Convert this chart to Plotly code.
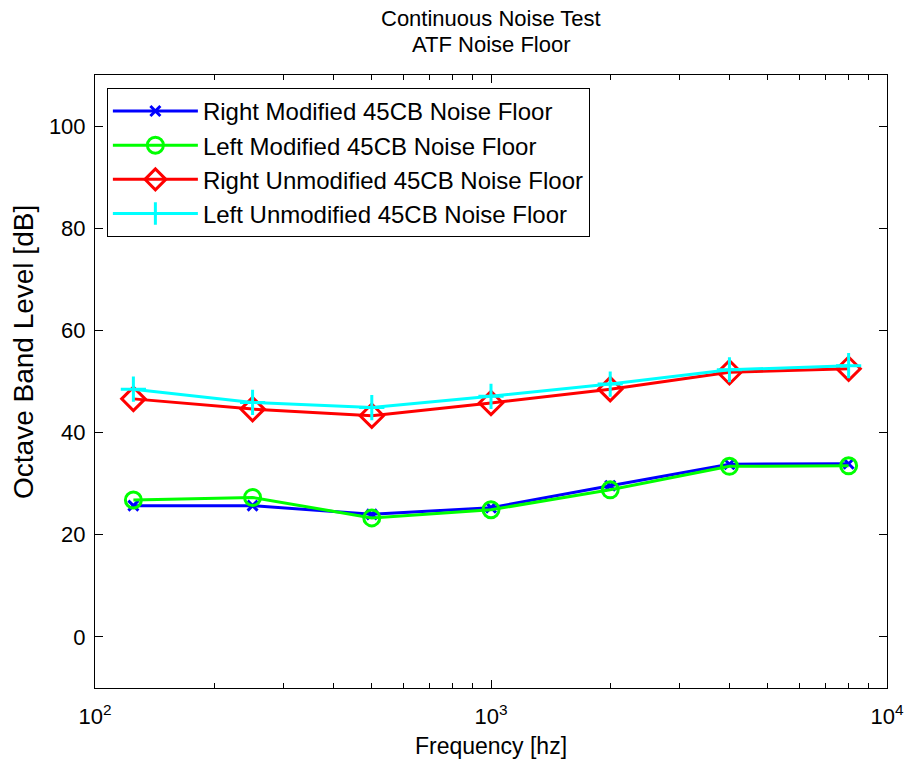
import plotly.graph_objects as go

freq = [125, 250, 500, 1000, 2000, 4000, 8000]
right_mod = [25.7, 25.7, 24.0, 25.3, 29.6, 33.8, 33.9]
left_mod = [26.8, 27.3, 23.3, 24.9, 28.8, 33.4, 33.5]
right_unmod = [46.6, 44.6, 43.3, 45.8, 48.5, 51.8, 52.5]
left_unmod = [48.5, 45.9, 44.9, 47.1, 49.5, 52.3, 53.1]

names = ["Right Modified 45CB Noise Floor", "Left Modified 45CB Noise Floor",
         "Right Unmodified 45CB Noise Floor", "Left Unmodified 45CB Noise Floor"]
series = [right_mod, left_mod, right_unmod, left_unmod]
colors = ["#0000FF", "#00FF00", "#FF0000", "#00FFFF"]
symbols = ["x-thin-open", "circle-open", "diamond-open", "cross-thin-open"]
sizes = [10, 16, 18, 18]

xtick_vals = [100, 1000, 10000]
xtick_text = ["10<sup>2</sup>", "10<sup>3</sup>", "10<sup>4</sup>"]
minor_vals = [200, 300, 400, 500, 600, 700, 800, 900,
              2000, 3000, 4000, 5000, 6000, 7000, 8000, 9000]
ytick_vals = [0, 20, 40, 60, 80, 100]
title_lines = ["Continuous Noise Test", "ATF Noise Floor"]
x_title = "Frequency [hz]"
y_title = "Octave Band Level [dB]"

fig = go.Figure()
for n, s, c, sym, sz in zip(names, series, colors, symbols, sizes):
    fig.add_trace(go.Scatter(
        x=freq, y=s, name=n, mode="lines+markers",
        line=dict(color=c, width=3),
        marker=dict(symbol=sym, size=sz, color=c, line=dict(color=c, width=3)),
    ))

font = "Liberation Sans, Arial, sans-serif"
plot_left, plot_right = 95, 887
plot_top, plot_bot = 75, 688
ph = plot_bot - plot_top
pw = plot_right - plot_left
for line, py in zip(title_lines, [19, 44]):
    fig.add_annotation(
        text=line, xref="paper", yref="paper", x=0.5,
        y=(plot_bot - py) / ph,
        xanchor="center", yanchor="middle", showarrow=False,
        font=dict(size=22, family=font, color="black"),
    )
# y-axis title (MATLAB places it slightly above the axis centre)
fig.add_annotation(
    text=y_title, xref="paper", yref="paper",
    x=(23 - plot_left) / pw, y=(plot_bot - 352) / ph,
    xanchor="center", yanchor="middle", textangle=-90, showarrow=False,
    font=dict(size=28, family=font, color="black"),
)

fig.update_layout(
    width=909, height=763,
    margin=dict(l=plot_left, r=909 - plot_right, t=plot_top, b=763 - plot_bot,
                autoexpand=False),
    paper_bgcolor="white", plot_bgcolor="white",
    font=dict(family=font, size=22, color="black"),
    showlegend=True,
    legend=dict(x=0.015, y=0.979, xanchor="left", yanchor="top",
                bordercolor="black", borderwidth=1, bgcolor="white",
                font=dict(size=24), itemwidth=85, tracegroupgap=0),
)
fig.update_xaxes(
    type="log", range=[2, 4], automargin=False,
    tickmode="array", tickvals=xtick_vals, ticktext=xtick_text,
    ticks="inside", ticklen=8, tickcolor="black", ticklabelstandoff=9,
    minor=dict(tickmode="array", tickvals=minor_vals, ticks="inside",
               ticklen=5, tickcolor="black", showgrid=False),
    showline=True, linecolor="black", linewidth=1, mirror="allticks",
    showgrid=False, zeroline=False,
    title=dict(text=x_title, standoff=9, font=dict(size=23)),
)
fig.update_yaxes(
    range=[-10, 110], automargin=False,
    tickmode="array", tickvals=ytick_vals,
    ticks="inside", ticklen=8, tickcolor="black", ticklabelstandoff=4,
    showline=True, linecolor="black", linewidth=1, mirror="allticks",
    showgrid=False, zeroline=False,
)

fig.write_html("out.html")
